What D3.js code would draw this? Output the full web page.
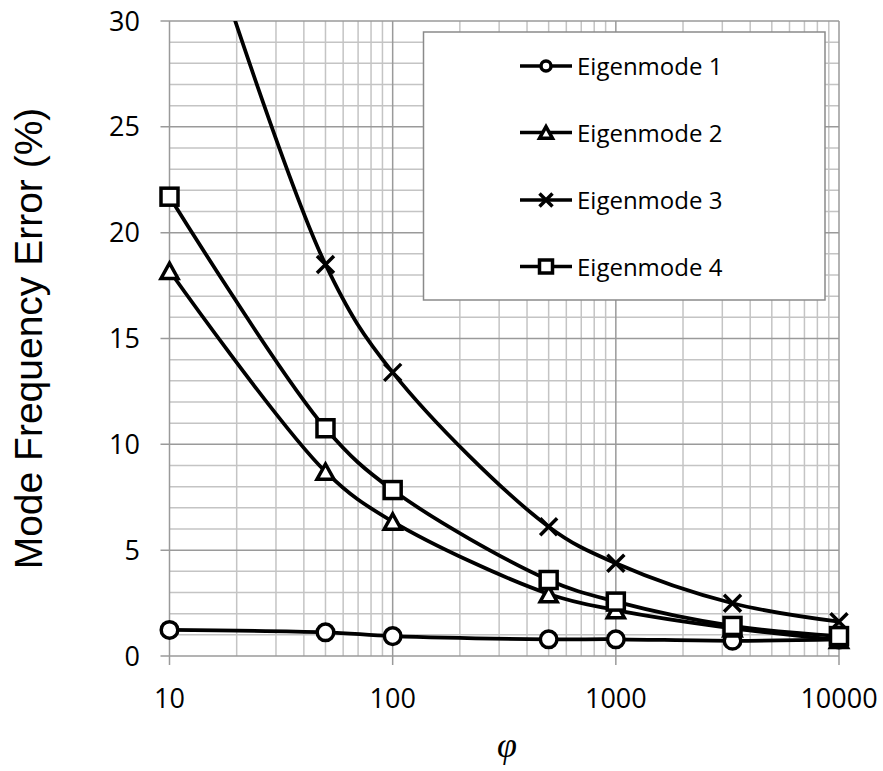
<!DOCTYPE html>
<html>
<head>
<meta charset="utf-8">
<script src="https://cdn.jsdelivr.net/npm/d3@7"></script>
<style>
  body { margin: 0; background: #fff; }
  svg { display: block; }
</style>
</head>
<body>
<svg id="chart" width="883" height="771"></svg>
<script>
// phi values on the x axis
const phi = [10, 50, 100, 500, 1000, 3333, 10000];
const mode1 = [1.23, 1.12, 0.94, 0.79, 0.79, 0.72, 0.78];
const mode2 = [18.2, 8.71, 6.35, 2.93, 2.17, 1.31, 0.76];
const mode3 = [39.5, 18.5, 13.4, 6.11, 4.38, 2.49, 1.62];
const mode4 = [21.7, 10.76, 7.84, 3.59, 2.57, 1.42, 0.94];
const seriesNames = ["Eigenmode 1", "Eigenmode 2", "Eigenmode 3", "Eigenmode 4"];
const seriesSymbols = ["circle", "triangle", "cross", "square"];
const xTicks = [10, 100, 1000, 10000];
const yTicks = [0, 5, 10, 15, 20, 25, 30];

const width = 883;
const height = 771;
const margin = { left: 169.5, right: 44, top: 21, bottom: 115 };

const svg = d3.select("#chart");

let x = d3
  .scaleLog()
  .domain([10, 10000])
  .range([margin.left, width - margin.right]);
let y = d3
  .scaleLinear()
  .domain([0, 30])
  .range([height - margin.bottom, margin.top]);

let plotLeft = x(10);
let plotRight = x(10000);
let plotTop = y(30);
let plotBottom = y(0);

// grid: minor first, major on top
let minorX = [];
for (let d = 10; d < 10000; d *= 10) {
  for (let k = 2; k <= 9; k++) minorX.push(d * k);
}
let minorY = d3.range(0, 31).filter((v) => v % 5 != 0);

let grid = svg.append("g");
grid
  .selectAll(".minor-x")
  .data(minorX)
  .join("line")
  .attr("x1", (d) => x(d))
  .attr("x2", (d) => x(d))
  .attr("y1", plotTop)
  .attr("y2", plotBottom)
  .style("stroke", "#c4c4c4")
  .style("stroke-width", 1.5);
grid
  .selectAll(".minor-y")
  .data(minorY)
  .join("line")
  .attr("x1", plotLeft)
  .attr("x2", plotRight)
  .attr("y1", (d) => y(d))
  .attr("y2", (d) => y(d))
  .style("stroke", "#c4c4c4")
  .style("stroke-width", 1.5);
grid
  .selectAll(".major-x")
  .data(xTicks)
  .join("line")
  .attr("x1", (d) => x(d))
  .attr("x2", (d) => x(d))
  .attr("y1", plotTop)
  .attr("y2", plotBottom + 9)
  .style("stroke", "#9a9a9a")
  .style("stroke-width", 1.5);
grid
  .selectAll(".major-y")
  .data(yTicks)
  .join("line")
  .attr("x1", plotLeft - 9)
  .attr("x2", plotRight)
  .attr("y1", (d) => y(d))
  .attr("y2", (d) => y(d))
  .style("stroke", "#9a9a9a")
  .style("stroke-width", 1.5);

// tick labels
svg
  .append("g")
  .selectAll("text")
  .data(xTicks)
  .join("text")
  .attr("x", (d) => x(d))
  .attr("y", plotBottom + 52)
  .attr("text-anchor", "middle")
  .style("font-family", "'Open Sans', sans-serif")
  .style("font-size", "27px")
  .text((d) => d);

svg
  .append("g")
  .selectAll("text")
  .data(yTicks)
  .join("text")
  .attr("x", 140)
  .attr("y", (d) => y(d) + 9.5)
  .attr("text-anchor", "end")
  .style("font-family", "'Open Sans', sans-serif")
  .style("font-size", "27px")
  .text((d) => d);

// axis titles
svg
  .append("text")
  .attr("transform", `translate(42,${(plotTop + plotBottom) / 2}) rotate(-90)`)
  .attr("text-anchor", "middle")
  .style("font-family", "'Liberation Sans', Arial, sans-serif")
  .style("font-size", "39px")
  .text("Mode Frequency Error (%)");

svg
  .append("text")
  .attr("x", 507)
  .attr("y", 757)
  .attr("text-anchor", "middle")
  .style("font-family", "'Liberation Serif', serif")
  .style("font-style", "italic")
  .style("font-size", "36px")
  .text("φ");

// clip for the lines
svg
  .append("clipPath")
  .attr("id", "plotClip")
  .append("rect")
  .attr("x", plotLeft - 15)
  .attr("y", plotTop)
  .attr("width", plotRight - plotLeft + 30)
  .attr("height", plotBottom - plotTop + 15);

let allSeries = [mode1, mode2, mode3, mode4];

let line = d3
  .line()
  .x((d) => x(d[0]))
  .y((d) => y(d[1]))
  .curve(d3.curveCatmullRom.alpha(0.5));

function drawMarker(g, type, cx, cy, s, cr) {
  if (type == "circle") {
    g.append("circle")
      .attr("cx", cx)
      .attr("cy", cy)
      .attr("r", cr)
      .style("fill", "#fff")
      .style("stroke", "#000")
      .style("stroke-width", 3.5);
  } else if (type == "square") {
    g.append("rect")
      .attr("x", cx - s / 2)
      .attr("y", cy - s / 2)
      .attr("width", s)
      .attr("height", s)
      .style("fill", "#fff")
      .style("stroke", "#000")
      .style("stroke-width", 3.5);
  } else if (type == "triangle") {
    let h = s * 0.9;
    g.append("path")
      .attr(
        "d",
        `M${cx},${cy - h / 2}L${cx + s / 2},${cy + h / 2}L${cx - s / 2},${cy + h / 2}Z`
      )
      .style("fill", "#fff")
      .style("stroke", "#000")
      .style("stroke-width", 3.5)
      .style("stroke-linejoin", "miter");
  } else {
    let r = s / 2;
    g.append("path")
      .attr(
        "d",
        `M${cx - r},${cy - r}L${cx + r},${cy + r}M${cx - r},${cy + r}L${cx + r},${cy - r}`
      )
      .style("fill", "none")
      .style("stroke", "#000")
      .style("stroke-width", 3.5);
  }
}

let plot = svg.append("g").attr("clip-path", "url(#plotClip)");

allSeries.forEach((vals, i) => {
  let pts = phi.map((p, j) => [p, vals[j]]);
  plot
    .append("path")
    .datum(pts)
    .attr("d", line)
    .style("fill", "none")
    .style("stroke", "#000")
    .style("stroke-width", 3.75);
  let mg = plot.append("g");
  pts
    .filter((d) => d[1] <= 30)
    .forEach((d) => drawMarker(mg, seriesSymbols[i], x(d[0]), y(d[1]), 17, 8.3));
});

// legend
let legend = svg.append("g");
legend
  .append("rect")
  .attr("x", 423.5)
  .attr("y", 32)
  .attr("width", 401.5)
  .attr("height", 268)
  .style("fill", "#fff")
  .style("stroke", "#8a8a8a")
  .style("stroke-width", 1.5);

let legendRows = [66, 132.5, 200, 266.5];
seriesNames.forEach((name, i) => {
  let ly = legendRows[i];
  legend
    .append("line")
    .attr("x1", 520)
    .attr("x2", 572)
    .attr("y1", ly)
    .attr("y2", ly)
    .style("stroke", "#000")
    .style("stroke-width", 3.5);
  drawMarker(legend, seriesSymbols[i], 546, ly, 13, 5);
  legend
    .append("text")
    .attr("x", 577)
    .attr("y", ly + 9)
    .style("font-family", "'Open Sans', sans-serif")
    .style("font-size", "24px")
    .text(name);
});
</script>
</body>
</html>
